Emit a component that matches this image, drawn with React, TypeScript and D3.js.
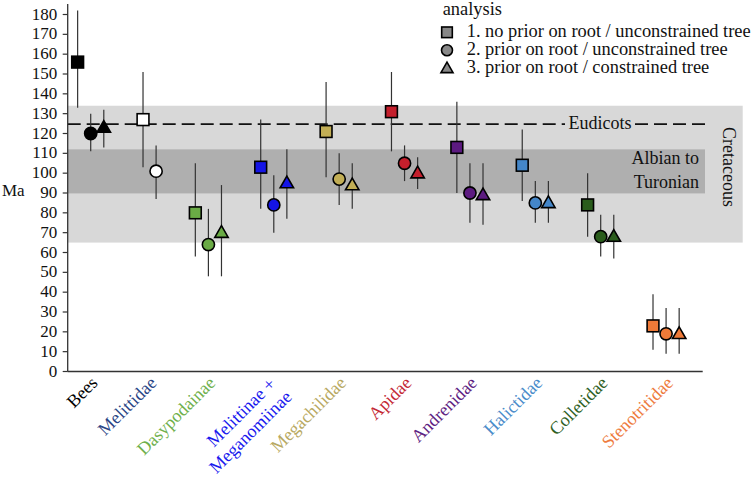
import React from "react";
import * as d3 from "d3";

// ---------- data ----------
const groups = ["Bees", "Melittidae", "Dasypodainae", "Melittinae +|Meganomiinae", "Megachilidae", "Apidae", "Andrenidae", "Halictidae", "Colletidae", "Stenotritidae"];
const groupColors = ["#000000", "#24407e", "#6aab45", "#1414e6", "#c2ae55", "#c41f2c", "#5c1a80", "#4486c8", "#2a5c1c", "#ef7a38"];
const labelColors = ["#000000", "#2a4686", "#6fb04c", "#1a1aee", "#b8a962", "#c42a36", "#5e2382", "#4a8cca", "#2e6024", "#ee7c40"];
const openMarkers = [false, true, false, false, false, false, false, false, false, false];

// analysis 1: no prior on root / unconstrained tree
const a1Mean = [156, 127, 80, 103, 121, 131, 113, 104, 84, 23];
const a1Low = [133, 103, 58, 82, 98, 111, 90, 86, 68, 11];
const a1High = [182, 151, 105, 127, 146, 151, 136, 122, 100, 39];
// analysis 2: prior on root / unconstrained tree
const a2Mean = [120, 101, 64, 84, 97, 105, 90, 85, 68, 19];
const a2Low = [111, 87, 48, 70, 84, 96, 75, 75, 58, 9];
const a2High = [130, 114, 82, 99, 110, 114, 105, 96, 79, 32];
// analysis 3: prior on root / constrained tree (not available for Melittidae)
const a3Mean = [123, null, 70, 95, 94, 100, 89, 85, 68, 19];
const a3Low = [113, null, 48, 77, 82, 92, 74, 75, 57, 9];
const a3High = [132, null, 94, 112, 105, 108, 105, 96, 79, 32];

const yTicks = d3.range(0, 190, 10);
const legendLabels = ["1. no prior on root / unconstrained tree", "2. prior on root / unconstrained tree", "3. prior on root / constrained tree"];
const cretaceous = [65, 134];
const albianTuronian = [89.8, 112];
const eudicots = 124.7;

const W = 754, H = 481;
const FONT = '"Liberation Serif", "Times New Roman", Times, serif';
const txt = { fontFamily: FONT, fontSize: 18 };
const legTxt = { fontFamily: FONT, fontSize: 18.4 };
const tickTxt = { fontFamily: FONT, fontSize: 17 };

type Pt = { g: number; a: number; idx: number; mean: number; lo: number; hi: number };

function buildPoints(): Pt[] {
  const pts: Pt[] = [];
  let idx = 0;
  groups.forEach((_, g) => {
    const series = [
      [a1Mean[g], a1Low[g], a1High[g]],
      [a2Mean[g], a2Low[g], a2High[g]],
      [a3Mean[g], a3Low[g], a3High[g]],
    ];
    series.forEach((s, a) => {
      if (s[0] == null) return;
      pts.push({ g, a, idx, mean: s[0] as number, lo: s[1] as number, hi: s[2] as number });
      idx += 1;
    });
    idx += 2;
  });
  return pts;
}

function Marker({ type, x, y, fill, stroke, size = 1 }: { type: number; x: number; y: number; fill: string; stroke: string; size?: number }) {
  if (type === 0) {
    const s = 11.8 * size;
    return <rect x={x - s / 2} y={y - s / 2} width={s} height={s} fill={fill} stroke={stroke} strokeWidth={1.6} />;
  }
  if (type === 1) {
    return <circle cx={x} cy={y} r={6.1 * size} fill={fill} stroke={stroke} strokeWidth={1.6} />;
  }
  const sym = d3.symbol(d3.symbolTriangle, 78 * size * size)();
  return <path d={sym as string} transform={`translate(${x},${y + 0.8})`} fill={fill} stroke={stroke} strokeWidth={1.6} strokeLinejoin="miter" />;
}

export default function App() {
  const pts = buildPoints();
  const left = 67.7, right = 702.7, top = 14.5, bottom = 371.5;
  const x = d3.scaleLinear().domain([-0.76, 47.8]).range([left, right]);
  const y = d3.scaleLinear().domain([0, 180]).range([bottom, top]);
  const bandRight = 742.7;
  const darkRight = 705;

  const centers = groups.map((_, g) => d3.mean(pts.filter((p) => p.g === g), (p) => p.idx) as number);

  return (
    <svg width={W} height={H} style={{ position: "absolute", left: 0, top: 0, background: "#fff" }}>
      {/* bands */}
      <rect x={left} y={y(cretaceous[1])} width={bandRight - left} height={y(cretaceous[0]) - y(cretaceous[1])} fill="#d8d8d8" />
      <rect x={left} y={y(albianTuronian[1])} width={darkRight - left} height={y(albianTuronian[0]) - y(albianTuronian[1])} fill="#afafaf" />
      <text x={699} y={164} style={txt} textAnchor="end" fill="#111">Albian to</text>
      <text x={699} y={187.5} style={txt} textAnchor="end" fill="#111">Turonian</text>
      <text transform={`translate(723,167) rotate(90)`} style={txt} textAnchor="middle" fill="#111">Cretaceous</text>

      {/* eudicots */}
      <line x1={left} x2={565} y1={y(eudicots)} y2={y(eudicots)} stroke="#111" strokeWidth={1.8} strokeDasharray="13,6" />
      <line x1={635} x2={darkRight} y1={y(eudicots)} y2={y(eudicots)} stroke="#111" strokeWidth={1.8} strokeDasharray="13,6" />
      <text x={600} y={y(eudicots) + 4.5} style={txt} textAnchor="middle" fill="#111">Eudicots</text>

      {/* axes */}
      <line x1={left} x2={left} y1={4} y2={bottom} stroke="#333" strokeWidth={1.3} />
      <line x1={left} x2={right} y1={bottom} y2={bottom} stroke="#333" strokeWidth={1.3} />
      {yTicks.map((t) => (
        <g key={t}>
          <line x1={left - 5} x2={left} y1={y(t)} y2={y(t)} stroke="#333" strokeWidth={1.2} />
          <text x={left - 10.5} y={y(t) + 5} style={tickTxt} textAnchor="end" fill="#111">{t}</text>
        </g>
      ))}
      <text x={2} y={195.5} style={tickTxt} fill="#111">Ma</text>

      {/* error bars */}
      {pts.map((p, i) => (
        <line key={"e" + i} x1={x(p.idx)} x2={x(p.idx)} y1={y(p.lo)} y2={y(p.hi)} stroke="#333" strokeWidth={1.2} />
      ))}
      {/* markers */}
      {pts.map((p, i) => (
        <Marker key={"m" + i} type={p.a} x={x(p.idx)} y={y(p.mean)} fill={openMarkers[p.g] ? "#ffffff" : groupColors[p.g]} stroke="#000" />
      ))}

      {/* x labels */}
      {groups.map((gname, g) => {
        const cx = x(centers[g]);
        const lines = gname.split("|");
        if (lines.length === 1) {
          return (
            <text key={gname} transform={`translate(${cx + 8},${384}) rotate(-45)`} style={txt} textAnchor="end" fill={labelColors[g]}>{gname}</text>
          );
        }
        return (
          <g key={gname}>
            <text transform={`translate(${cx + 3},${385}) rotate(-45)`} style={txt} textAnchor="end" fill={labelColors[g]}>{lines[0]}</text>
            <text transform={`translate(${cx + 19},${398}) rotate(-45)`} style={txt} textAnchor="end" fill={labelColors[g]}>{lines[1]}</text>
          </g>
        );
      })}

      {/* legend */}
      <text x={442.7} y={15} style={legTxt} fill="#111">analysis</text>
      {legendLabels.map((l, i) => (
        <g key={l}>
          <Marker type={i} x={447} y={32.3 + i * 18} fill="#888888" stroke="#000" size={0.9} />
          <text x={466.7} y={37.3 + i * 18} style={legTxt} fill="#111">{l}</text>
        </g>
      ))}
    </svg>
  );
}
